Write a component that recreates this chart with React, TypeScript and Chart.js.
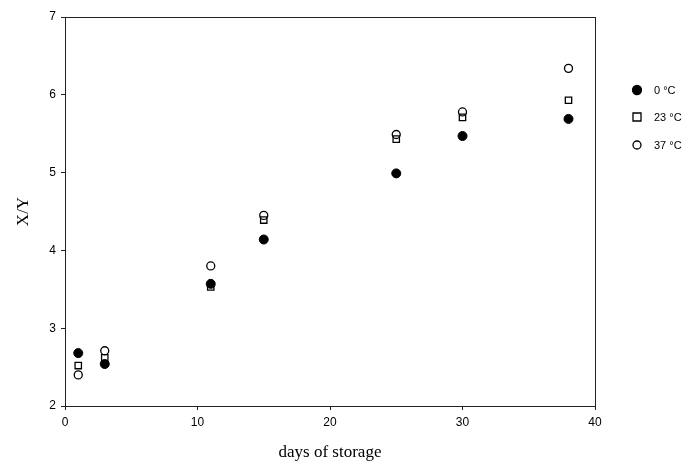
import React, { useEffect, useRef } from "react";
import { Chart, registerables } from "chart.js";

Chart.register(...registerables);

const days = [1, 3, 11, 15, 25, 30, 38];
const series0C = [2.68, 2.54, 3.57, 4.14, 4.99, 5.47, 5.69];
const series23C = [2.52, 2.62, 3.53, 4.39, 5.43, 5.71, 5.93];
const series37C = [2.4, 2.71, 3.8, 4.45, 5.49, 5.78, 6.34];
const seriesLabels = ["0 °C", "23 °C", "37 °C"];
const xTitle = "days of storage";
const yTitle = "X/Y";

const toPts = (vals: number[]) => vals.map((v, i) => ({ x: days[i], y: v }));

const frame = {
  id: "frame",
  afterDraw(chart: any) {
    const { ctx, chartArea: a } = chart;
    ctx.save();
    ctx.strokeStyle = "#222";
    ctx.lineWidth = 1;
    ctx.strokeRect(Math.round(a.left) + 0.5, Math.round(a.top) + 0.5, Math.round(a.right - a.left), Math.round(a.bottom - a.top));
    // legend
    const ds = chart.data.datasets;
    const x0 = a.right + 42;
    const ys = [90, 117, 145];
    ctx.font = "11px 'Liberation Sans', Arial, sans-serif";
    ctx.textBaseline = "middle";
    ctx.fillStyle = "#000";
    ds.forEach((d: any, i: number) => {
      const y = ys[i];
      ctx.beginPath();
      ctx.lineWidth = 1.3;
      ctx.strokeStyle = "#000";
      if (d.pointStyle === "rect") {
        ctx.rect(x0 - 4, y - 4, 8, 8);
        ctx.stroke();
      } else {
        ctx.arc(x0, y, d.pointRadius, 0, Math.PI * 2);
        if (d.pointBackgroundColor === "#000") ctx.fill();
        ctx.stroke();
      }
      ctx.fillStyle = "#000";
      ctx.fillText(seriesLabels[i], x0 + 17, y + 1);
    });
    ctx.restore();
  },
};

export default function App() {
  const ref = useRef<HTMLCanvasElement>(null);
  useEffect(() => {
    if (!ref.current) return;
    const tickFont = { family: "'Liberation Sans', Arial, sans-serif", size: 12 };
    const titleFont = { family: "'Liberation Serif', 'Times New Roman', serif", size: 17 };
    const chart = new Chart(ref.current, {
      type: "scatter",
      data: {
        datasets: [
          {
            label: seriesLabels[0],
            data: toPts(series0C),
            pointStyle: "circle",
            pointRadius: 4.5,
            pointBackgroundColor: "#000",
            pointBorderColor: "#000",
            borderWidth: 1,
          },
          {
            label: seriesLabels[1],
            data: toPts(series23C),
            pointStyle: "rect",
            pointRadius: 4.5,
            pointBackgroundColor: "rgba(255,255,255,0)",
            pointBorderColor: "#000",
            pointBorderWidth: 1.3,
          },
          {
            label: seriesLabels[2],
            data: toPts(series37C),
            pointStyle: "circle",
            pointRadius: 4,
            pointBackgroundColor: "rgba(255,255,255,0)",
            pointBorderColor: "#000",
            pointBorderWidth: 1.3,
          },
        ] as any,
      },
      options: {
        animation: false,
        responsive: false,
        layout: { padding: { left: 0, right: 92, top: 17, bottom: 0 } },
        plugins: { legend: { display: false }, tooltip: { enabled: false } },
        scales: {
          x: {
            type: "linear",
            min: 0,
            max: 40,
            ticks: { stepSize: 10, font: tickFont, color: "#000", padding: 5 },
            grid: { display: true, drawOnChartArea: false, drawTicks: true, tickLength: 4, color: "#222" },
            border: { display: true, color: "#222" },
            title: { display: true, text: xTitle, font: titleFont, color: "#000", padding: { top: 4, bottom: 1 } },
            afterFit: (s: any) => { s.height = 58; },
          },
          y: {
            type: "linear",
            min: 2,
            max: 7,
            ticks: { stepSize: 1, font: tickFont, color: "#000", padding: 5 },
            grid: { display: true, drawOnChartArea: false, drawTicks: true, tickLength: 4, color: "#222" },
            border: { display: true, color: "#222" },
            title: { display: true, text: yTitle, font: titleFont, color: "#000", padding: { top: 13, bottom: 0 } },
            afterFit: (s: any) => { s.width = 65; },
          },
        },
      } as any,
      plugins: [frame],
    });
    return () => chart.destroy();
  }, []);
  return (
    <div style={{ position: "absolute", left: 0, top: 0, width: 687, height: 464, background: "#fff" }}>
      <canvas ref={ref} width={687} height={464} style={{ width: 687, height: 464 }} />
    </div>
  );
}
